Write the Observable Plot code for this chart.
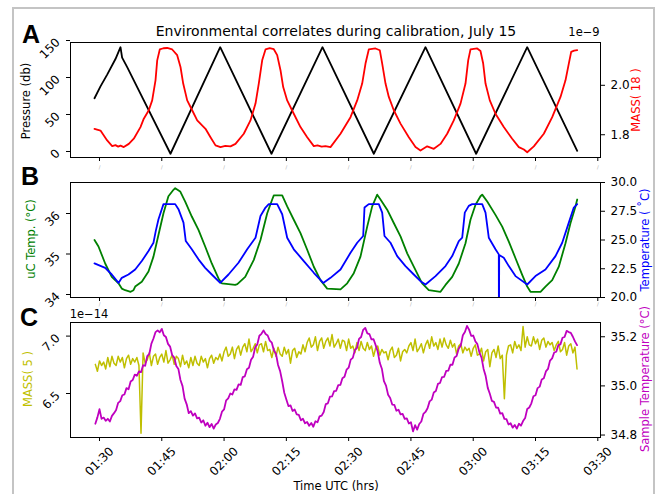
<!DOCTYPE html>
<html><head><meta charset="utf-8">
<script src="https://cdn.jsdelivr.net/npm/d3@7"></script>
<script src="https://cdn.jsdelivr.net/npm/@observablehq/plot@0.6"></script>
<style>
body{margin:0;background:#fff;}
#fig{position:relative;width:660px;height:494px;overflow:hidden;font-family:"DejaVu Sans",sans-serif;background:#fff;}
#border{position:absolute;left:12px;top:7px;width:643px;height:520px;border:2px solid #c4c4c4;box-sizing:border-box;}
.lbl{position:absolute;white-space:nowrap;font-size:11.5px;line-height:1;transform:translate(-50%,-50%);}
.rot{transform:translate(-50%,-50%) rotate(-90deg);}
.let{position:absolute;font-family:"Liberation Sans",Arial,sans-serif;font-weight:bold;font-size:25px;line-height:1;transform:translate(-50%,-50%);}
</style></head>
<body><div id="fig"><div id="border"></div></div>
<script>
// ---------- data (time in minutes after 00:00 UTC) ----------
const xTicks = [90, 105, 120, 135, 150, 165, 180, 195, 210];
const xTickLabels = ["01:30","01:45","02:00","02:15","02:30","02:45","03:00","03:15","03:30"];

const pressureTime = [88.8, 90.24, 91.85, 93.85, 95.06, 95.45, 96.67, 107.1, 119.07, 131.42, 143.7, 156.06, 168.5, 180.7, 193.0, 205.04];
const pressure     = [76, 92, 108, 129, 145, 131, 118, 1, 145, 1, 145, 1, 145, 1, 145, 5];
const pressureTicks = [0, 50, 100, 150];

const mass18Time = [88.8,90.24,91.85,93.06,93.85,94.5,95.06,95.85,97.06,98.26,99.87,100.67,101.87,102.69,103.49,103.9,104.52,105.4,106.3,107.51,108.71,109.51,110.16,111.12,112.32,113.53,115.53,116.73,117.94,119.14,120.3,121.55,122.75,124.75,126.36,127.57,128.36,129.18,129.98,131.0,131.98,132.79,133.59,134.24,135.2,136.79,138.4,140.02,141.61,142.5,143.5,144.43,145.63,148.04,150.45,152.06,153.26,154.06,154.85,156.47,157.5,158.08,158.88,159.67,160.87,162.49,164.49,166.1,167.3,168.92,170.51,172.12,173.73,175.32,176.94,178.14,178.79,179.34,180.96,181.75,182.4,182.96,183.99,185.36,187.36,189.38,190.98,192.2,193.0,194.59,197.0,199.02,201.02,202.22,203.02,203.59,204.3,205.04];
const mass18 = [1.824,1.817,1.777,1.754,1.758,1.752,1.756,1.75,1.763,1.784,1.831,1.865,1.899,1.939,2.02,2.101,2.145,2.15,2.151,2.145,2.122,2.074,2.007,1.939,1.899,1.858,1.824,1.79,1.757,1.75,1.755,1.753,1.763,1.804,1.858,1.926,2.007,2.101,2.145,2.15,2.146,2.122,2.061,1.993,1.939,1.885,1.831,1.79,1.754,1.757,1.752,1.754,1.75,1.804,1.871,1.939,2.007,2.088,2.145,2.149,2.142,2.088,2.007,1.953,1.899,1.845,1.79,1.75,1.736,1.753,1.743,1.763,1.804,1.858,1.926,2.007,2.101,2.145,2.149,2.139,2.088,2.007,1.939,1.885,1.831,1.784,1.75,1.74,1.729,1.753,1.804,1.871,1.953,2.02,2.088,2.135,2.14,2.142];
const mass18Ticks = [1.8, 2.0];

const ucTime = [88.8,89.76,91.37,92.96,94.58,95.37,96.19,97.5,98.19,98.6,100.19,101.8,103.0,104.21,105.41,106.6,107.82,108.23,109.43,110.64,112.23,113.84,115.45,117.04,118.66,119.45,122.68,123.2,125.09,127.16,128.77,130.39,131.59,131.98,134.0,135.2,136.79,138.4,140.02,141.61,143.22,144.83,148.04,149.65,151.24,152.85,154.47,155.67,156.88,157.67,159.28,160.87,162.49,164.1,165.69,167.3,167.71,169.3,172.12,173.32,174.94,176.53,178.14,179.34,180.55,181.75,182.16,183.37,185.36,186.98,188.57,190.18,191.79,193.0,193.79,196.2,197.4,199.02,200.61,202.22,203.43,204.63,205.04];
const ucTemp = [35.42,35.26,34.84,34.51,34.35,34.22,34.18,34.14,34.18,34.27,34.39,34.64,35.01,35.55,36.08,36.5,36.66,36.7,36.62,36.37,36.0,35.67,35.26,34.84,34.47,34.35,34.31,34.33,34.51,34.93,35.42,36.08,36.42,36.52,36.52,36.25,35.92,35.59,35.18,34.76,34.43,34.22,34.2,34.35,34.6,35.01,35.75,36.25,36.54,36.42,36.17,35.84,35.51,35.09,34.76,34.43,34.35,34.18,34.14,34.31,34.51,34.84,35.34,35.92,36.29,36.5,36.54,36.37,36.04,35.75,35.38,34.97,34.56,34.27,34.14,34.14,34.27,34.43,34.76,35.34,35.84,36.25,36.42];
const ucTicks = [34, 35, 36];

const tempTime = [88.8,91.37,92.96,94.58,95.37,96.98,98.6,100.19,101.8,103.0,103.56,104.21,105.0,105.41,108.23,109.02,110.23,110.78,112.23,113.84,115.45,117.04,119.07,121.07,123.47,125.57,127.57,128.77,129.98,130.77,132.79,134.0,135.2,136.79,139.2,141.61,143.87,145.63,148.04,150.45,152.06,153.5,153.82,154.85,157.26,158.08,158.63,160.08,161.69,163.69,165.69,167.3,168.51,170.92,173.32,174.94,176.53,177.35,177.97,178.93,179.75,182.16,182.96,183.75,185.36,186.16,186.2,186.25,187.36,188.57,190.18,193.0,194.99,197.4,199.81,201.43,203.02,204.22,205.04];
const temp = [22.97,22.58,22.0,21.27,21.71,22.0,22.44,23.17,24.04,24.76,25.79,26.81,27.68,28.12,28.12,27.68,26.51,24.91,24.19,23.32,22.58,22.0,21.27,22.0,23.02,24.19,25.2,27.09,27.82,28.12,28.12,27.24,25.2,24.19,23.17,22.15,21.27,21.71,22.44,23.89,24.76,25.35,27.82,28.12,28.12,27.38,25.35,24.76,23.6,22.73,22.0,21.42,21.13,21.86,22.73,23.6,24.91,25.2,27.38,27.97,28.12,28.12,27.38,25.2,24.19,23.75,15,23.7,23.46,22.73,21.86,21.13,21.86,22.44,23.6,24.76,26.51,27.82,28.12];
const tempTicks = [20, 22.5, 25, 27.5, 30];

// panel C: sampled every 0.5 min from 01:29
const sampleStart = 89, sampleStep = 0.5;
const mass5 = [
6.78,6.72,6.81,6.77,6.80,6.74,6.84,6.76,6.85,6.79,
6.77,6.85,6.80,6.84,6.75,6.83,6.86,6.78,6.83,6.80,
6.84,6.77,6.18,6.88,6.79,6.82,6.88,6.77,6.85,6.87,
6.78,6.84,6.87,6.80,6.90,6.79,6.82,6.86,6.78,6.85,
6.83,6.76,6.86,6.78,6.81,6.75,6.84,6.77,6.85,6.79,
6.77,6.85,6.80,6.83,6.75,6.83,6.86,6.79,6.84,6.82,
6.87,6.81,6.89,6.93,6.85,6.87,6.93,6.83,6.91,6.94,
6.86,6.93,6.96,6.89,7.00,6.89,6.92,6.96,6.88,6.95,
6.96,6.89,6.98,6.90,6.91,6.84,6.92,6.85,6.93,6.87,
6.85,6.93,6.87,6.91,6.79,6.90,6.92,6.84,6.89,6.87,
6.95,6.89,6.97,7.01,6.93,6.95,7.02,6.90,6.98,7.01,
6.92,6.98,7.01,6.94,7.04,6.93,6.96,7.00,6.92,6.99,
6.98,6.90,7.00,6.92,6.94,6.88,6.97,6.90,6.98,6.92,
6.90,6.97,6.91,6.94,6.85,6.92,6.94,6.86,6.91,6.88,
6.89,6.82,6.90,6.93,6.84,6.86,6.92,6.81,6.89,6.91,
6.88,6.94,6.97,6.90,7.00,6.89,6.92,6.96,6.88,6.95,
6.99,6.92,7.02,6.94,6.97,6.91,7.00,6.93,7.01,6.95,
6.92,6.99,6.93,6.96,6.87,6.94,6.96,6.88,6.93,6.90,
6.92,6.85,6.92,6.95,6.86,6.87,6.92,6.81,6.89,6.91,
6.76,6.88,6.91,6.84,6.94,6.83,6.86,6.48,6.86,6.94,
6.95,6.88,6.98,6.92,6.95,6.90,7.11,6.93,7.02,6.95,
6.94,7.02,6.96,7.00,6.91,6.99,7.01,6.93,6.98,6.95,
6.97,6.90,6.95,6.98,6.89,6.91,6.97,6.86,6.94,6.96,
6.88,6.93,6.74];
const mass5Ticks = [6.5, 7.0];

const sampleTemp = [
34.846,34.872,34.905,34.866,34.871,34.858,34.866,34.855,34.878,34.889,
34.902,34.931,34.938,34.962,34.965,34.991,34.986,35.018,35.024,35.046,
35.041,35.059,35.056,35.084,35.082,35.121,35.13,35.172,35.193,35.219,
35.226,35.218,35.232,35.206,35.199,35.171,35.16,35.126,35.115,35.081,
35.069,35.024,34.999,34.948,34.925,34.889,34.897,34.879,34.888,34.868,
34.871,34.851,34.86,34.838,34.85,34.832,34.845,34.826,34.843,34.849,
34.866,34.895,34.904,34.941,34.949,34.969,34.965,34.986,34.984,35.006,
35.004,35.036,35.039,35.068,35.074,35.106,35.119,35.157,35.169,35.204,
35.212,35.226,35.211,35.205,35.184,35.176,35.144,35.131,35.085,35.06,
35.019,34.972,34.945,34.918,34.921,34.898,34.904,34.884,34.882,34.86,
34.866,34.848,34.853,34.838,34.849,34.834,34.856,34.852,34.876,34.879,
34.894,34.926,34.929,34.956,34.957,34.979,34.98,35.003,35.004,35.031,
35.037,35.066,35.074,35.107,35.114,35.146,35.155,35.191,35.199,35.228,
35.236,35.214,35.211,35.189,35.19,35.166,35.14,35.094,35.07,35.019,
35.001,34.964,34.951,34.924,34.923,34.899,34.903,34.884,34.886,34.866,
34.868,34.847,34.852,34.815,34.84,34.822,34.845,34.855,34.886,34.894,
34.909,34.937,34.944,34.973,34.979,35.008,35.012,35.036,35.037,35.061,
35.062,35.086,35.086,35.116,35.122,35.151,35.164,35.206,35.219,35.244,
35.229,35.204,35.205,35.182,35.17,35.136,35.115,35.069,35.04,34.992,
34.968,34.939,34.935,34.912,34.911,34.887,34.889,34.866,34.865,34.843,
34.848,34.83,34.841,34.826,34.846,34.838,34.857,34.869,34.906,34.912,
34.929,34.958,34.962,34.991,34.997,35.026,35.031,35.059,35.069,35.103,
35.112,35.136,35.139,35.166,35.169,35.196,35.199,35.224,35.219,35.216,
35.2,35.181,35.166];
const sampleTicks = [34.8, 35.0, 35.2];

// ---------- drawing ----------
const xDomain = [83.02, 210.65];
const FONT = '"DejaVu Sans", sans-serif';
const fig = document.getElementById("fig");
const pairs = (ts, vs) => ts.map((t, i) => ({t, v: vs[i]}));
const grid = (vs) => vs.map((v, i) => ({t: sampleStart + i * sampleStep, v}));
const xLab = new Map(xTicks.map((t, i) => [t, xTickLabels[i]]));

function addPlot(top, height, mt, mb, ydom, marks) {
  const svg = Plot.plot({
    width: 660, height, marginTop: mt, marginBottom: mb, marginLeft: 70, marginRight: 60,
    x: {domain: xDomain, axis: null},
    y: {domain: ydom, axis: null},
    style: {background: "transparent", fontFamily: FONT, fontSize: "12px", overflow: "visible", color: "#000"},
    marks
  });
  svg.style.position = "absolute"; svg.style.left = "0px"; svg.style.top = top + "px";
  fig.appendChild(svg);
}
const leftAxis = (ticks, fmt) => Plot.axisY({anchor: "left", ticks, tickFormat: fmt, tickSize: 4, tickPadding: 8.5,
  tickRotate: -45, textAnchor: "end", lineAnchor: "middle", dy: -3, label: null});
const rightAxis = (ticks, fmt) => Plot.axisY({anchor: "right", ticks, tickFormat: fmt, tickSize: 4, tickPadding: 6, label: null});
const hiddenX = (dy) => [
  Plot.axisX({ticks: xTicks, tickSize: 4, tickFormat: () => "", label: null}),
  Plot.text(xTicks, {x: d => d, frameAnchor: "bottom", dy, text: () => "/", fontSize: 5, fill: "#aaa"})
];
const LW = 1.8;

// Panel A
addPlot(0, 175, 42, 18, [-4.07, 151.36], [
  Plot.line(pairs(pressureTime, pressure), {x: "t", y: "v", stroke: "#000", strokeWidth: LW}),
  leftAxis(pressureTicks, "d"), ...hiddenX(11), Plot.frame({stroke: "#000"})
]);
addPlot(0, 175, 42, 18, [1.7079, 2.1732], [
  Plot.line(pairs(mass18Time, mass18), {x: "t", y: "v", stroke: "#ff0000", strokeWidth: LW}),
  rightAxis(mass18Ticks, ".1f")
]);
// Panel B
addPlot(175, 135, 7, 13, [34.0, 36.84], [
  Plot.line(pairs(ucTime, ucTemp), {x: "t", y: "v", stroke: "#008000", strokeWidth: LW}),
  leftAxis(ucTicks, "d"), ...hiddenX(8), Plot.frame({stroke: "#000"})
]);
addPlot(175, 135, 7, 13, [20, 30], [
  Plot.line(pairs(tempTime, temp), {x: "t", y: "v", stroke: "#0000ff", strokeWidth: LW, clip: true}),
  rightAxis(tempTicks, ".1f")
]);
// Panel C
addPlot(310, 184, 12, 57, [6.143, 7.1446], [
  Plot.line(grid(mass5), {x: "t", y: "v", stroke: "#bfbf00", strokeWidth: 1.5}),
  leftAxis(mass5Ticks, ".1f"),
  Plot.axisX({ticks: xTicks, tickSize: 4, tickPadding: 20, tickRotate: -45, textAnchor: "middle", lineAnchor: "middle",
    tickFormat: d => xLab.get(d), label: null}),
  Plot.frame({stroke: "#000"})
]);
addPlot(310, 184, 12, 57, [34.79, 35.258], [
  Plot.line(grid(sampleTemp), {x: "t", y: "v", stroke: "#bf00bf", strokeWidth: LW}),
  rightAxis(sampleTicks, ".1f")
]);

// ---------- text ----------
function label(txt, cx, cy, cls, color, extra) {
  const d = document.createElement("div");
  d.className = cls; d.textContent = txt;
  d.style.left = cx + "px"; d.style.top = cy + "px";
  if (color) d.style.color = color;
  if (extra) Object.assign(d.style, extra);
  fig.appendChild(d);
}
label("Environmental correlates during calibration, July 15", 336, 31, "lbl", "#000", {fontSize: "14px"});
label("A", 31, 34, "let"); label("B", 30, 176, "let"); label("C", 29, 317, "let");
label("Pressure (db)", 27, 101, "lbl rot", "#000");
label("uC Temp. (°C)", 32, 239, "lbl rot", "#008000");
label("MASS( 5 )", 29, 379, "lbl rot", "#bfbf00");
label("MASS( 18 )", 637, 100, "lbl rot", "#ff0000");
label("Temperature ( ˚C)", 646, 240, "lbl rot", "#0000ff");
label("Sample Temperature (°C)", 646, 379, "lbl rot", "#bf00bf");
label("1e\u22129", 584, 33, "lbl", "#000");
label("1e\u221214", 89, 315, "lbl", "#000");
label("Time UTC (hrs)", 336, 487, "lbl", "#000");
</script></body></html>
